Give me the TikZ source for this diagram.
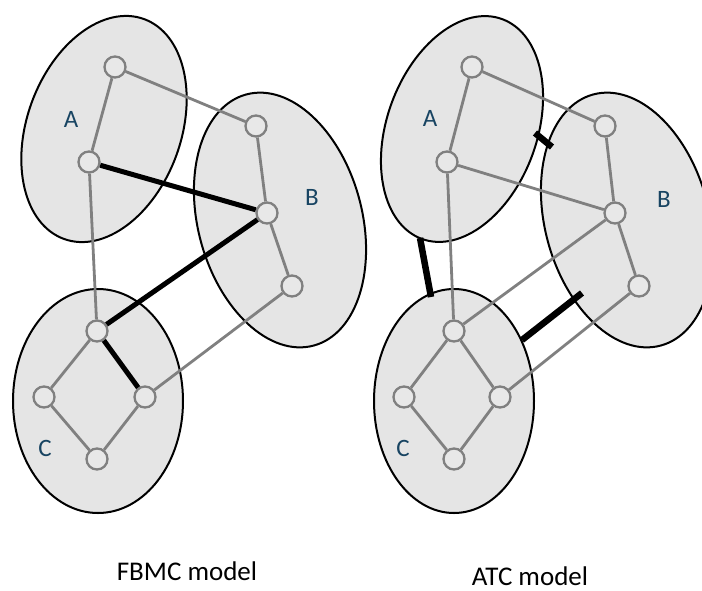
\documentclass[tikz,border=0pt]{standalone}
\usepackage{fontspec}
\setmainfont{Carlito}
\definecolor{zonefill}{RGB}{229,229,229}
\definecolor{busfill}{RGB}{232,232,232}
\definecolor{linkgray}{RGB}{128,128,128}
\definecolor{labelblue}{RGB}{24,68,98}
\begin{document}
\begin{tikzpicture}[x=1pt,y=1pt,
  zone/.style={draw=black, line width=2pt, fill=zonefill},
  bus/.style={circle, draw=linkgray, line width=2.3pt, fill=busfill, inner sep=0pt, minimum size=21pt},
  link/.style={draw=linkgray, line width=2.8pt},
  tie/.style={draw=black, line width=5pt},
  bar/.style={draw=black, line width=6.5pt},
  zlabel/.style={text=labelblue, font=\fontsize{25}{25}\selectfont},
  caption/.style={font=\fontsize{27}{27}\selectfont, anchor=base, inner sep=0pt}]
\clip (0,0) rectangle (702,-590);

% ---------- FBMC model ----------
\draw[zone, rotate around={-20:(104,-129)}] (104,-129) ellipse [x radius=77, y radius=117];
\draw[zone, rotate around={15:(280,-220)}] (280,-220) ellipse [x radius=82, y radius=130];
\draw[zone] (98,-401) ellipse [x radius=85, y radius=112];

\node[bus] (aT) at (115,-67) {};
\node[bus] (aB) at (89,-162) {};
\node[bus] (bT) at (256,-126) {};
\node[bus] (bM) at (267,-213) {};
\node[bus] (bB) at (292,-286) {};
\node[bus] (cT) at (97,-331) {};
\node[bus] (cL) at (44,-397) {};
\node[bus] (cR) at (145,-397) {};
\node[bus] (cB) at (97,-459) {};

\draw[link] (aT) -- (aB);
\draw[link] (aT) -- (bT);
\draw[link] (aB) -- (cT);
\draw[link] (bT) -- (bM);
\draw[link] (bM) -- (bB);
\draw[link] (bB) -- (cR);
\draw[link] (cT) -- (cL);
\draw[link] (cL) -- (cB);
\draw[link] (cR) -- (cB);
\draw[tie] (aB) -- (bM);
\draw[tie] (bM) -- (cT);
\draw[tie] (cT) -- (cR);

\node[zlabel] (labA) at (71,-119) {A};
\node[zlabel] (labB) at (312,-197) {B};
\node[zlabel] (labC) at (45,-448) {C};

\node[caption] (capL) at (187,-580) {FBMC model};

% ---------- ATC model ----------
\draw[zone, rotate around={-20:(462,-129)}] (462,-129) ellipse [x radius=75, y radius=117];
\draw[zone, rotate around={15:(627,-220)}] (627,-220) ellipse [x radius=82, y radius=130];
\draw[zone] (454,-401) ellipse [x radius=80, y radius=112];

\node[bus] (raT) at (472,-67) {};
\node[bus] (raB) at (447,-162) {};
\node[bus] (rbT) at (605,-126) {};
\node[bus] (rbM) at (615,-213) {};
\node[bus] (rbB) at (639,-286) {};
\node[bus] (rcT) at (454,-331) {};
\node[bus] (rcL) at (404,-397) {};
\node[bus] (rcR) at (500,-397) {};
\node[bus] (rcB) at (454,-459) {};

\draw[link] (raT) -- (raB);
\draw[link] (raT) -- (rbT);
\draw[link] (raB) -- (rbM);
\draw[link] (raB) -- (rcT);
\draw[link] (rbT) -- (rbM);
\draw[link] (rbM) -- (rbB);
\draw[link] (rbM) -- (rcT);
\draw[link] (rbB) -- (rcR);
\draw[link] (rcT) -- (rcL);
\draw[link] (rcT) -- (rcR);
\draw[link] (rcL) -- (rcB);
\draw[link] (rcR) -- (rcB);

% interconnection capacities between zones
\coordinate (abS) at (535,-133);
\coordinate (abE) at (552,-147);
\coordinate (acS) at (420,-238);
\coordinate (acE) at (431,-297);
\coordinate (cbS) at (522,-340);
\coordinate (cbE) at (582,-293);
\draw[bar] (abS) -- (abE);
\draw[bar] (acS) -- (acE);
\draw[bar] (cbS) -- (cbE);

\node[zlabel] (rlabA) at (430,-118) {A};
\node[zlabel] (rlabB) at (664,-199) {B};
\node[zlabel] (rlabC) at (403,-448) {C};

\node[caption] (capR) at (530,-585) {ATC model};
\end{tikzpicture}
\end{document}
